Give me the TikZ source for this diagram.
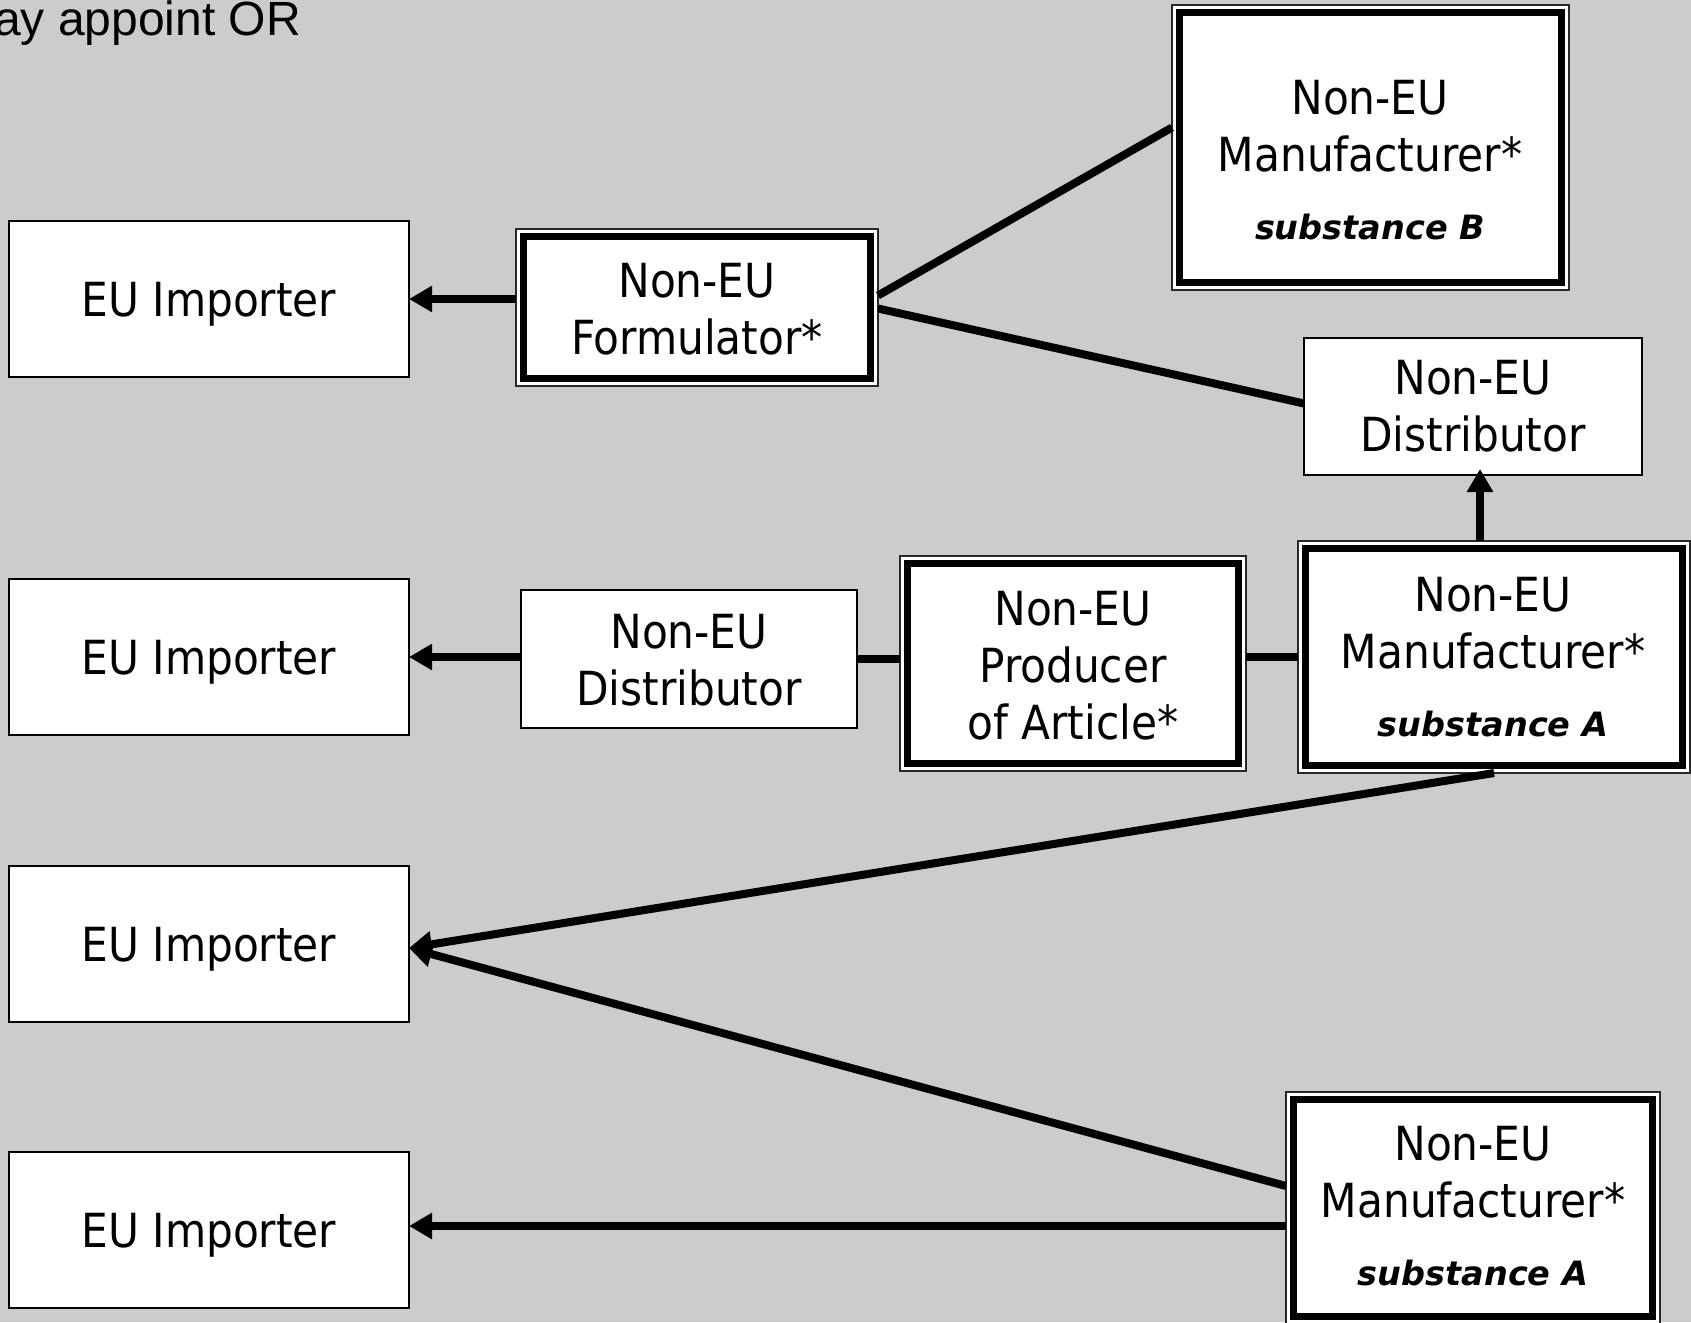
\documentclass[tikz,border=0pt]{standalone}
\usepackage{fontspec}
\usetikzlibrary{arrows.meta}
\newfontfamily\boxfont{DejaVu Sans Condensed}
\newfontfamily\subfont{DejaVu Sans Bold Oblique}
\newfontfamily\notefont{Liberation Sans}
\definecolor{bg}{RGB}{204,204,204}
\definecolor{rim}{RGB}{40,40,40}

\tikzset{
  plainbox/.style={rectangle, draw=black, line width=1.5pt, fill=white,
    inner sep=0pt, outer sep=0pt},
  heavybox/.style={rectangle, draw=rim, line width=1.5pt, fill=white,
    inner sep=0pt, outer sep=0pt},
  thickframe/.style={draw=black, line width=7pt},
  boxtext/.style={align=center, inner sep=0pt,
    font=\boxfont\fontsize{47}{57}\selectfont},
  link/.style={draw=black, line width=8pt},
  conn/.style={link, -{Triangle[length=23pt,width=25pt]}},
}

\begin{document}
\begin{tikzpicture}[x=1pt, y=-1pt]
  \fill[bg] (0,0) rectangle (1691,1322);
  \useasboundingbox (0,0) rectangle (1691,1322);

  % heading line, running off the left edge
  \node[anchor=base west, inner sep=0pt,
        font=\notefont\fontsize{48}{56}\selectfont] (note) at (-6,36) {ay appoint OR};

  % EU importers
  \foreach \n/\y in {imp1/299, imp2/657, imp3/944, imp4/1230}
    \node[plainbox, minimum width=400pt, minimum height=156pt,
          font=\boxfont\fontsize{47}{57}\selectfont,
          text height=34pt, text depth=0pt] (\n) at (209,\y) {EU Importer};

  % non-EU actors, light frame
  \node[plainbox, minimum width=338pt, minimum height=137pt] (distT) at (1473,406.5) {};
  \node[plainbox, minimum width=336pt, minimum height=138pt] (dist2) at (689,659) {};

  % non-EU actors, heavy frame
  \node[heavybox, minimum width=362pt, minimum height=157pt] (form) at (697,307.5) {};
  \node[heavybox, minimum width=397pt, minimum height=285pt] (manB) at (1370.5,147.5) {};
  \node[heavybox, minimum width=346pt, minimum height=215pt] (prod) at (1073,663.5) {};
  \node[heavybox, minimum width=392pt, minimum height=232pt] (manA) at (1494,657) {};
  \node[heavybox, minimum width=374pt, minimum height=232pt] (manC) at (1473,1208) {};
  \foreach \b in {form, manB, prod, manA, manC}
    \draw[thickframe] ([shift={(7.5pt,-7.5pt)}]\b.north west)
      rectangle ([shift={(-7.5pt,7.5pt)}]\b.south east);

  % labels
  \node[boxtext] (distT-t) at (1473,406) {Non-EU\\Distributor};
  \node[boxtext] (dist2-t) at (689,660) {Non-EU\\Distributor};
  \node[boxtext] (form-t) at (697,309) {Non-EU\\Formulator*};
  \node[boxtext] (prod-t) at (1073,666) {Non-EU\\Producer\\of Article*};
  \node[boxtext] (manB-t) at (1370,160)
    {Non-EU\\Manufacturer*\\[11pt]{\subfont\fontsize{33.5}{40}\selectfont substance B}};
  \node[boxtext] (manA-t) at (1493,657)
    {Non-EU\\Manufacturer*\\[11pt]{\subfont\fontsize{33.5}{40}\selectfont substance A}};
  \node[boxtext] (manC-t) at (1473,1206)
    {Non-EU\\Manufacturer*\\[11pt]{\subfont\fontsize{33.5}{40}\selectfont substance A}};

  % supply chain connectors
  \draw[conn] (form.west |- imp1.east) -- (imp1.east);
  \draw[link] ([yshift=20pt]manB.west) -- ([yshift=12pt]form.east);
  \draw[link] ([yshift=3pt]distT.west) -- ([yshift=-1pt]form.east);

  \draw[conn] (dist2.west |- imp2.east) -- (imp2.east);
  \draw[link] (dist2.east) -- (dist2.east -| prod.west);
  \draw[link] (manA.west) -- (manA.west -| prod.east);
  \coordinate (upx) at ([xshift=7pt,yshift=6pt]distT.south);
  \draw[conn] (upx |- manA.north) -- (upx);

  \coordinate (imp3in) at ([yshift=-4pt]imp3.east);
  \draw[conn] (manA.south) -- (imp3in);
  \draw[conn] ([yshift=22pt]manC.west) -- (imp3in);
  \coordinate (c4) at ([yshift=-18pt]manC.west);
  \draw[conn] (c4) -- (c4 -| imp4.east);
\end{tikzpicture}
\end{document}
